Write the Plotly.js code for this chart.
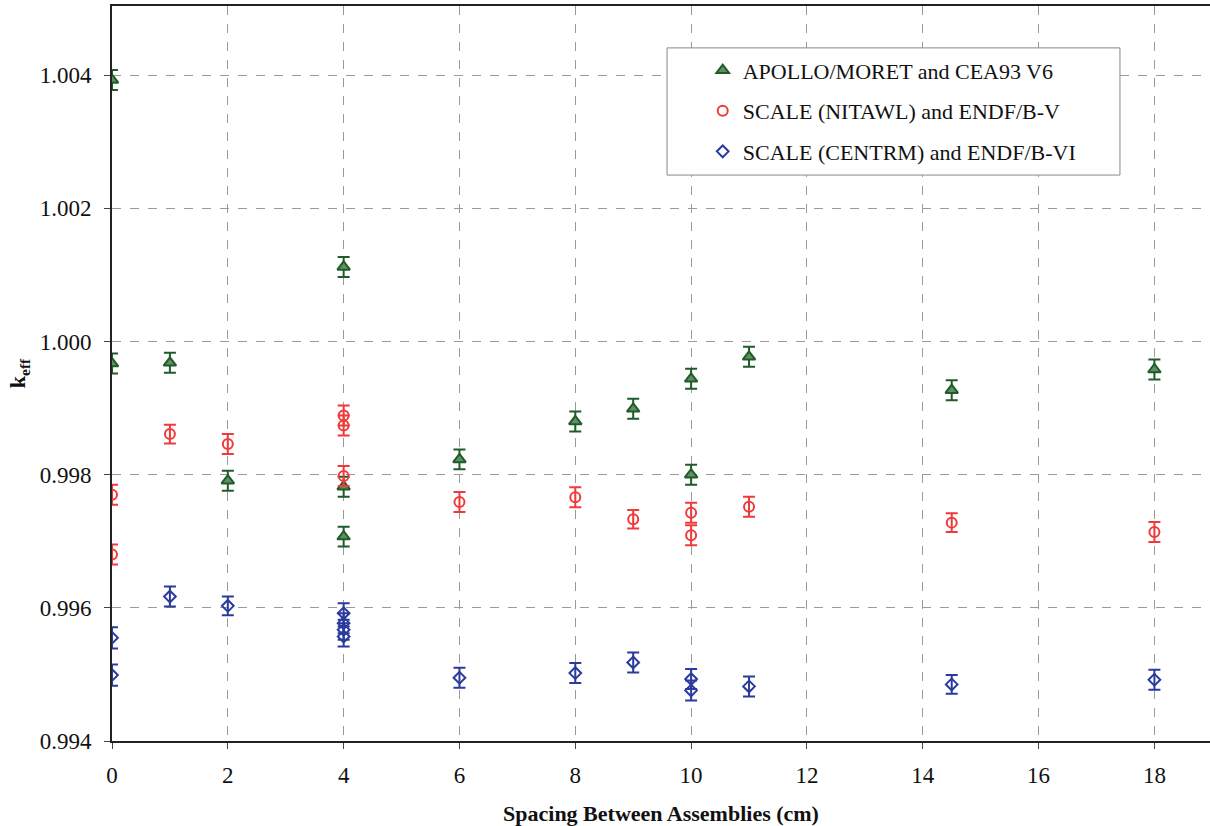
<!DOCTYPE html>
<html>
<head>
<meta charset="utf-8">
<script src="https://cdn.plot.ly/plotly-3.0.1.min.js"></script>
<style>html,body{margin:0;padding:0;background:#fff;}#chart{width:1210px;height:826px;}</style>
</head>
<body>
<div id="chart"></div>
<script>
// Series names
const seriesNames = [
  "APOLLO/MORET and CEA93 V6",
  "SCALE (NITAWL) and ENDF/B-V",
  "SCALE (CENTRM) and ENDF/B-VI"
];

// APOLLO/MORET and CEA93 V6
const apolloX = [0, 0, 1, 2, 4, 4, 4, 6, 8, 9, 10, 10, 11, 14.5, 18];
const apolloY = [1.00393, 0.99967, 0.99968, 0.99791, 1.00112, 0.99782, 0.99707, 0.99823, 0.99880, 0.99899, 0.99944, 0.99800, 0.99977, 0.99927, 0.99958];
const apolloErr = [0.00015, 0.00015, 0.00015, 0.00015, 0.00015, 0.00015, 0.00015, 0.00015, 0.00015, 0.00015, 0.00015, 0.00015, 0.00015, 0.00015, 0.00015];

// SCALE (NITAWL) and ENDF/B-V
const nitawlX = [0, 0, 1, 2, 4, 4, 4, 6, 8, 9, 10, 10, 11, 14.5, 18];
const nitawlY = [0.99770, 0.99680, 0.99861, 0.99846, 0.99889, 0.99874, 0.99798, 0.99759, 0.99766, 0.99733, 0.99743, 0.99709, 0.99752, 0.99728, 0.99714];
const nitawlErr = [0.00015, 0.00015, 0.00014, 0.00015, 0.00015, 0.00015, 0.00015, 0.00015, 0.00015, 0.00014, 0.00015, 0.00015, 0.00015, 0.00014, 0.00015];

// SCALE (CENTRM) and ENDF/B-VI
const centrmX = [0, 0, 1, 2, 4, 4, 4, 4, 6, 8, 9, 10, 10, 11, 14.5, 18];
const centrmY = [0.99555, 0.99499, 0.99617, 0.99603, 0.99592, 0.99577, 0.99567, 0.99557, 0.99495, 0.99502, 0.99518, 0.99493, 0.99476, 0.99482, 0.99485, 0.99492];
const centrmErr = [0.00016, 0.00016, 0.00015, 0.00014, 0.00015, 0.00015, 0.00015, 0.00015, 0.00015, 0.00015, 0.00015, 0.00015, 0.00015, 0.00015, 0.00014, 0.00015];

// Axis ticks
const xTicks = [0, 2, 4, 6, 8, 10, 12, 14, 16, 18];
const yTicks = [0.994, 0.996, 0.998, 1.000, 1.002, 1.004];

const GREEN = "#1f5c2a", RED = "#f03a3a", BLUE = "#2a3a9e";
const FONT = "Liberation Serif";

function errBars(arr, color) {
  return {type: "data", array: arr, visible: true, color: color, thickness: 2, width: 6};
}

const traces = [
  {x: apolloX, y: apolloY, name: seriesNames[0], legendgroup: "a", type: "scatter", mode: "markers",
   marker: {symbol: "triangle-up", size: 11, color: "#5f8f63", line: {color: GREEN, width: 2}},
   error_y: errBars(apolloErr, GREEN)},
  {x: nitawlX, y: nitawlY, name: seriesNames[1], legendgroup: "b", type: "scatter", mode: "markers",
   marker: {symbol: "circle-open", size: 10, color: RED, line: {color: RED, width: 2}},
   error_y: errBars(nitawlErr, RED)},
  {x: centrmX, y: centrmY, name: seriesNames[2], legendgroup: "c", type: "scatter", mode: "markers",
   marker: {symbol: "diamond-open", size: 9, color: BLUE, line: {color: BLUE, width: 2}},
   error_y: errBars(centrmErr, BLUE)}
];

const layout = {
  width: 1210, height: 826,
  margin: {l: 112, r: 0, t: 6, b: 85, pad: 0},
  paper_bgcolor: "#ffffff", plot_bgcolor: "#ffffff",
  font: {family: FONT, size: 22, color: "#111"},
  showlegend: true,
  legend: {
    x: 0.538, y: 0.941, xanchor: "left", yanchor: "top",
    bgcolor: "rgba(0,0,0,0)", borderwidth: 0,
    font: {family: FONT, size: 22, color: "#111"},
    tracegroupgap: 9, itemclick: false
  },
  shapes: [{
    type: "rect", xref: "paper", yref: "paper",
    x0: 0.5055, x1: 0.918, y0: 0.770, y1: 0.943,
    line: {color: "#888", width: 1}, fillcolor: "#ffffff", layer: "above"
  }],
  xaxis: {
    range: [0, 18.96], tickvals: xTicks, ticktext: xTicks.map(String),
    showline: true, linecolor: "#222", linewidth: 2, mirror: true,
    ticks: "outside", ticklen: 6, tickcolor: "#444", tickwidth: 1,
    showgrid: true, gridcolor: "#9a9a9a", griddash: "dash", gridwidth: 1,
    zeroline: false, ticklabelstandoff: 6,
    tickfont: {family: FONT, size: 23, color: "#111"},
    title: {text: "<b>Spacing Between Assemblies (cm)</b>", font: {family: FONT, size: 22, color: "#111"}, standoff: 20}
  },
  yaxis: {
    range: [0.994, 1.00504], tickvals: yTicks, ticktext: yTicks.map(v => v.toFixed(3)),
    showline: true, linecolor: "#222", linewidth: 2, mirror: false,
    ticks: "outside", ticklen: 6, tickcolor: "#444", tickwidth: 1,
    showgrid: true, gridcolor: "#9a9a9a", griddash: "dash", gridwidth: 1,
    zeroline: false, ticklabelstandoff: 8,
    tickfont: {family: FONT, size: 23, color: "#111"},
    title: {text: "<b>k<sub>eff</sub></b>", font: {family: FONT, size: 22, color: "#111"}, standoff: 8}
  }
};

Plotly.newPlot("chart", traces, layout, {displayModeBar: false, staticPlot: true});
</script>
</body>
</html>
